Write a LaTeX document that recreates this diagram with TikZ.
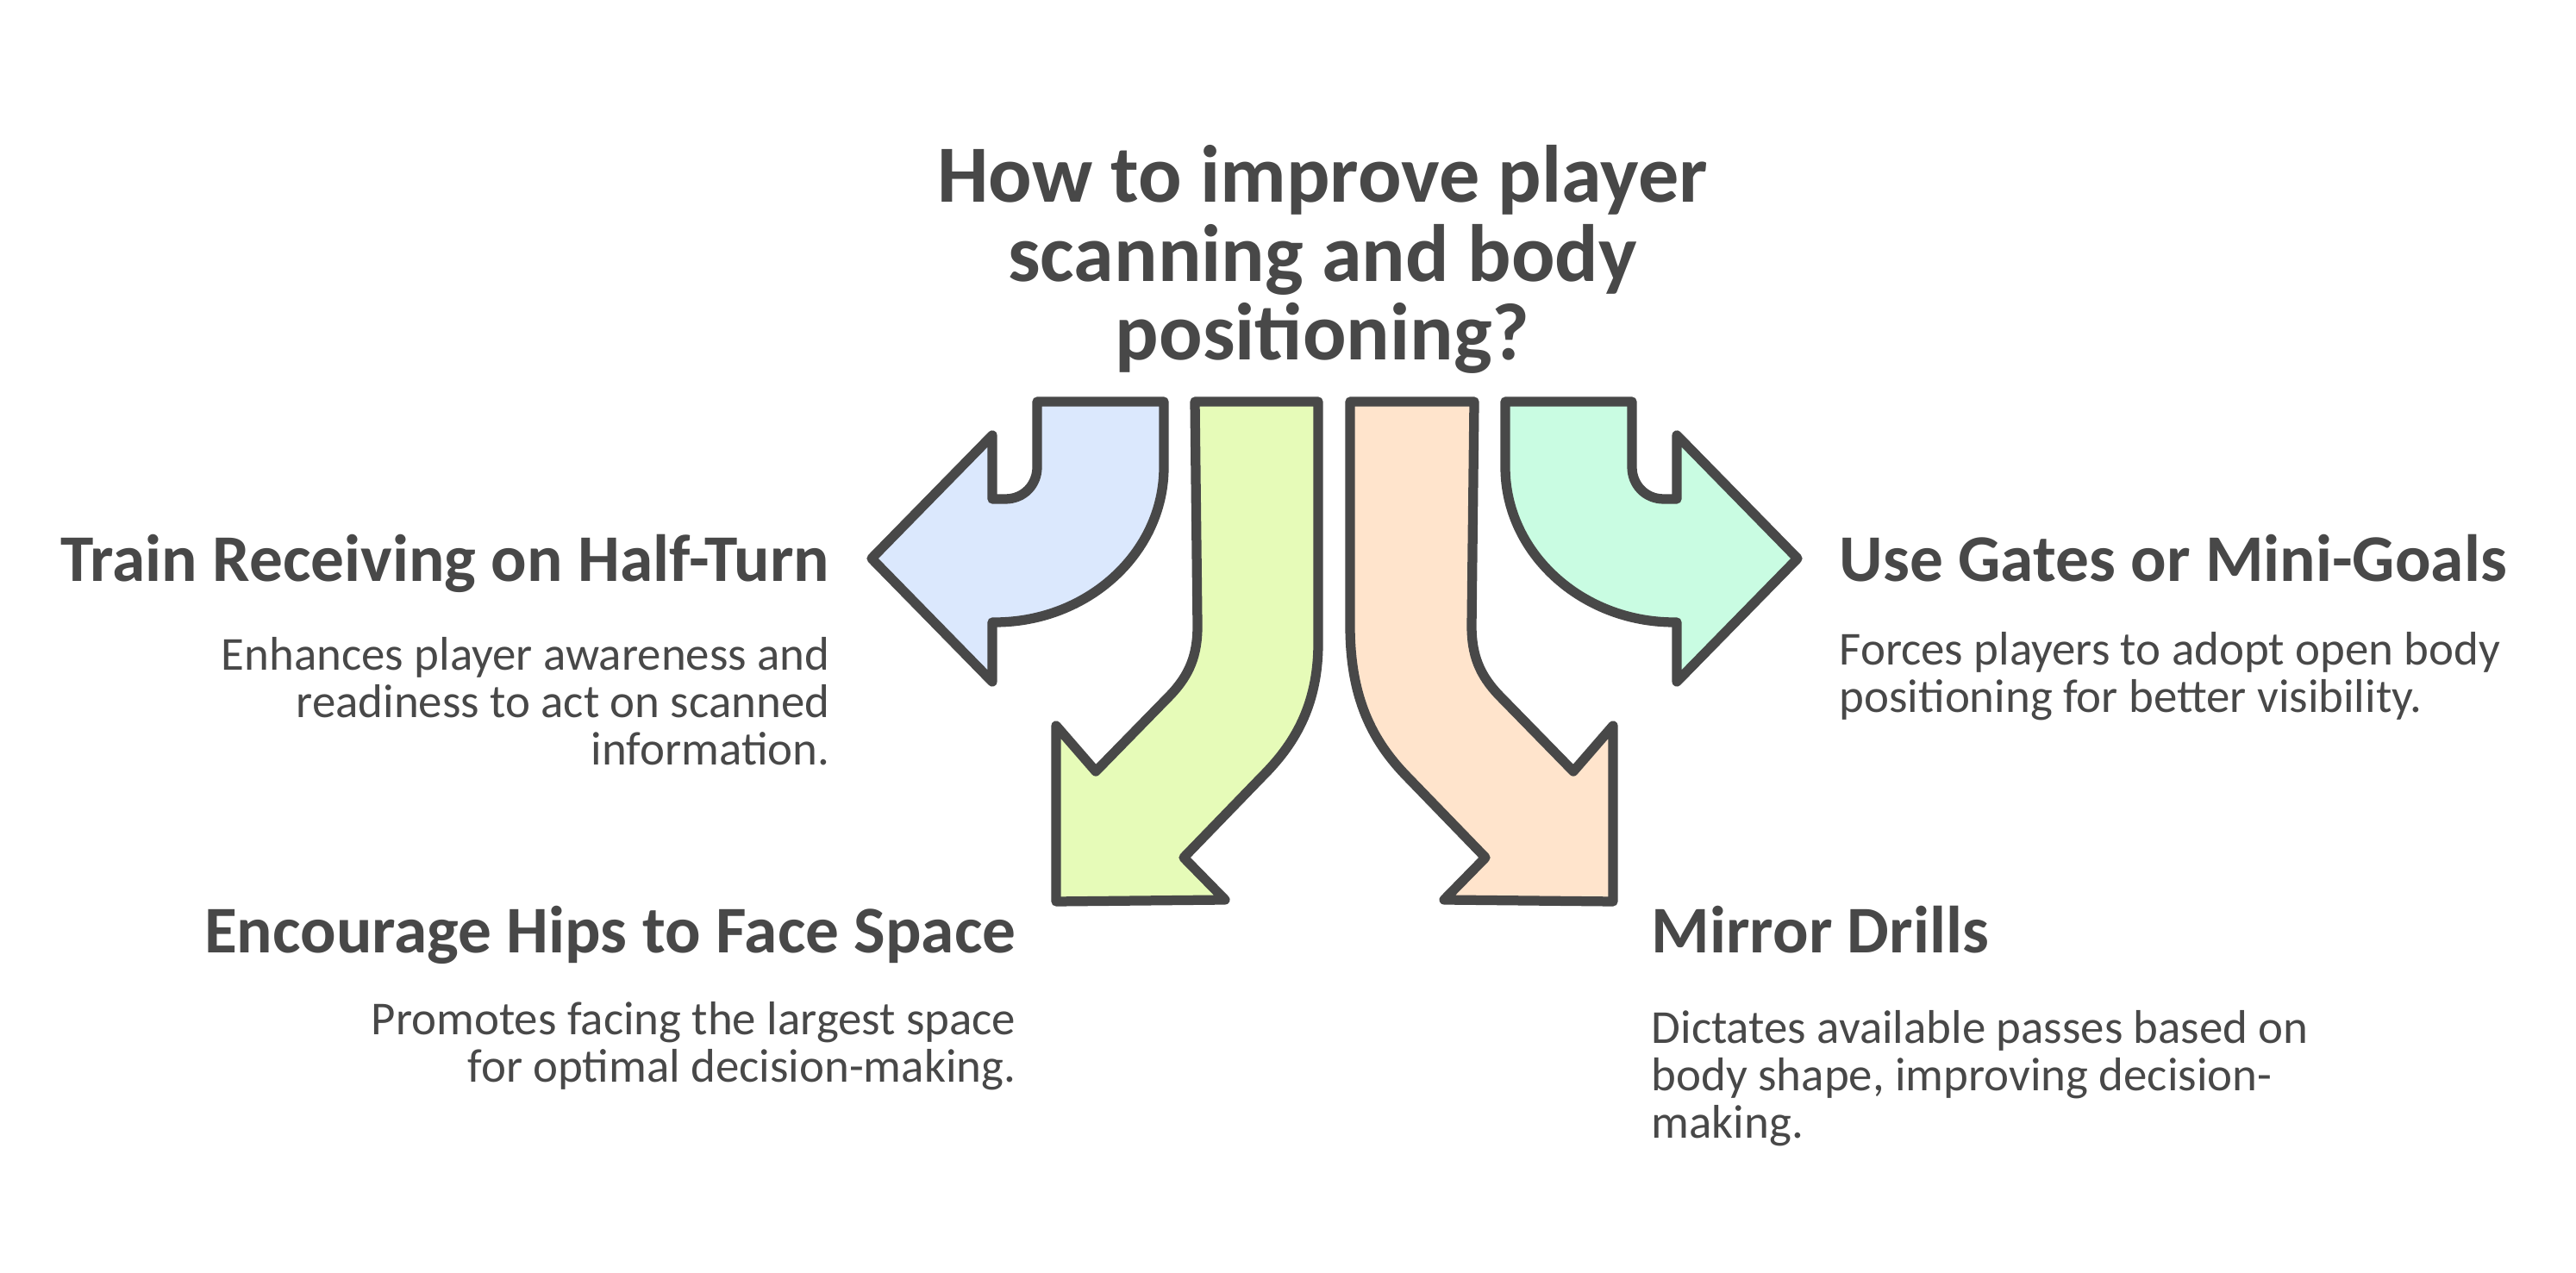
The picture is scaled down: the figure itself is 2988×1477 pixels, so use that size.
\documentclass[tikz,border=0pt]{standalone}
\usepackage{fontspec}
\setmainfont{Carlito}
\usepackage{xcolor}
\usetikzlibrary{positioning}

\definecolor{inkgray}{RGB}{72,72,72}
\definecolor{blueFill}{RGB}{219,232,253}
\definecolor{greenFill}{RGB}{230,251,184}
\definecolor{orangeFill}{RGB}{255,228,204}
\definecolor{tealFill}{RGB}{201,252,226}

\begin{document}
\begin{tikzpicture}[
  x=0.01cm, y=-0.01cm,
  question/.style={inner sep=0pt, align=center, text=inkgray, font=\fontsize{26.8pt}{26pt}\selectfont\bfseries},
  heading/.style={inner sep=0pt, text=inkgray, font=\fontsize{22pt}{24pt}\selectfont\bfseries},
  desc/.style={inner sep=0pt, text=inkgray, font=\fontsize{15.6pt}{15.6pt}\selectfont},
  bigarrow/.style={draw=inkgray, line width=3.2pt, line join=round}
]
  \fill[white] (0,0) rectangle (2988,1477);
  \useasboundingbox (0,0) rectangle (2988,1477);

  % the four arrows
  \filldraw[bigarrow, fill=blueFill] (1203,466) -- (1350,466) -- (1350,542)
    .. controls (1350,641) and (1262,722) .. (1154,722) -- (1151,722) -- (1151,791)
    -- (1011,648) -- (1151,505) -- (1151,579) -- (1166,579)
    .. controls (1188,579) and (1203,562) .. (1203,542) -- cycle;
  \filldraw[bigarrow, fill=greenFill] (1386,466) -- (1529,466) -- (1529,746)
    .. controls (1529,820) and (1500,865) .. (1464,901) -- (1373,995) -- (1421,1044)
    -- (1225,1046) -- (1225,842) -- (1271,895) -- (1357,807)
    .. controls (1380,783) and (1389,760) .. (1389,726) -- cycle;
  \filldraw[bigarrow, fill=orangeFill] (1710,466) -- (1566,466) -- (1566,726)
    .. controls (1566,810) and (1592,860) .. (1632,901) -- (1723,995) -- (1675,1044)
    -- (1871,1046) -- (1871,842) -- (1825,895) -- (1739,807)
    .. controls (1716,783) and (1707,760) .. (1707,726) -- cycle;
  \filldraw[bigarrow, fill=tealFill] (1893,466) -- (1746,466) -- (1746,542)
    .. controls (1746,641) and (1834,722) .. (1942,722) -- (1945,722) -- (1945,791)
    -- (2085,648) -- (1945,505) -- (1945,579) -- (1930,579)
    .. controls (1908,579) and (1893,562) .. (1893,542) -- cycle;

  % texts
  \node[question] (q) at (1534,301) {How to improve player\\scanning and body\\positioning?};

  \node[heading, anchor=base east] (t1) at (963,675) {Train Receiving on Half-Turn};
  \node[desc, align=right, below left=0.64cm and 0cm of t1.base east] (d1)
    {Enhances player awareness and\\readiness to act on scanned\\information.};

  \node[heading, anchor=base west] (t2) at (2133,675) {Use Gates or Mini-Goals};
  \node[desc, align=left, below right=0.58cm and 0cm of t2.base west] (d2)
    {Forces players to adopt open body\\positioning for better visibility.};

  \node[heading, anchor=base east] (t3) at (1179,1106) {Encourage Hips to Face Space};
  \node[desc, align=right, below left=0.56cm and 0cm of t3.base east] (d3)
    {Promotes facing the largest space\\for optimal decision-making.};

  \node[heading, anchor=base west] (t4) at (1915,1106) {Mirror Drills};
  \node[desc, align=left, below right=0.66cm and 0cm of t4.base west] (d4)
    {Dictates available passes based on\\body shape, improving decision-\\making.};
\end{tikzpicture}
\end{document}
